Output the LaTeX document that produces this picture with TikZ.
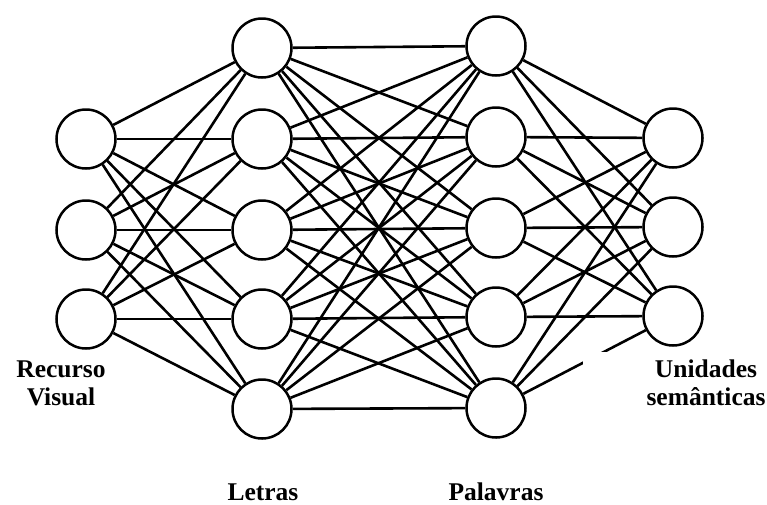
\documentclass[tikz,border=0pt]{standalone}
\usepackage{fontspec}
\setmainfont{Liberation Serif}
\begin{document}
\begin{tikzpicture}[x=1pt,y=-1pt,
  neuron/.style={circle,draw,line width=2.5pt,fill=white,minimum size=59pt,inner sep=0pt},
  link/.style={line width=2.6pt},
  lab/.style={font=\fontsize{25.5}{28}\selectfont\bfseries,align=center,anchor=base,inner sep=0pt}]
\useasboundingbox (0,0) rectangle (767,504);
% layer 1
\node[neuron] (a1) at (86,139) {};
\node[neuron] (a2) at (86,230) {};
\node[neuron] (a3) at (86,319) {};
% layer 2
\node[neuron] (b1) at (262,48) {};
\node[neuron] (b2) at (262,139) {};
\node[neuron] (b3) at (262,230) {};
\node[neuron] (b4) at (262,319) {};
\node[neuron] (b5) at (262,409) {};
% layer 3
\node[neuron] (c1) at (496,46) {};
\node[neuron] (c2) at (496,137) {};
\node[neuron] (c3) at (496,228) {};
\node[neuron] (c4) at (496,317) {};
\node[neuron] (c5) at (496,408) {};
% layer 4
\node[neuron] (d1) at (673,138) {};
\node[neuron] (d2) at (673,227) {};
\node[neuron] (d3) at (673,316) {};
% connections
\foreach \i in {1,2,3}{\foreach \j in {1,...,5}{\draw[link] (a\i) -- (b\j);}}
\foreach \i in {1,...,5}{\foreach \j in {1,...,5}{\draw[link] (b\i) -- (c\j);}}
\foreach \i in {1,...,5}{\foreach \j in {1,2,3}{\draw[link] (c\i) -- (d\j);}}
% scan gap
\fill[white] (583,352) rectangle (640,366);
% labels
\node[lab] (l1) at (61,405) {Recurso\\Visual};
\node[lab] (l4) at (706,405) {Unidades\\semânticas};
\node[lab] (l2) at (263,500) {Letras};
\node[lab] (l3) at (496,500) {Palavras};
\end{tikzpicture}
\end{document}
